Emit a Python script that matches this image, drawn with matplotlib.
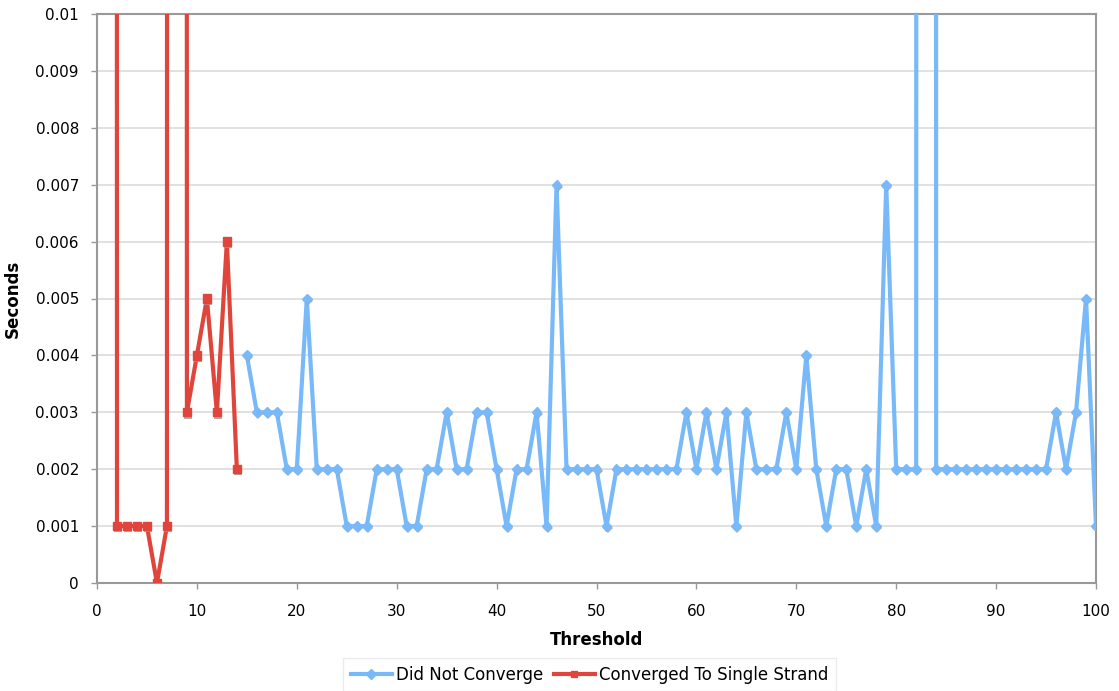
import numpy as np
import matplotlib
matplotlib.use('Agg')
import matplotlib.pyplot as plt
import matplotlib.patheffects as pe

# values above the axis top (off-scale spikes)
BIG = 1.0

thresh_red = [1, 2, 3, 4, 5, 6, 7, 8, 9, 10, 11, 12, 13, 14]
secs_red = [BIG, 0.001, 0.001, 0.001, 0.001, 0.0, 0.001, BIG,
            0.003, 0.004, 0.005, 0.003, 0.006, 0.002]

thresh_blue = list(range(15, 101))
secs_blue = [
    0.004, 0.003, 0.003, 0.003, 0.002, 0.002, 0.005, 0.002, 0.002, 0.002,  # 15-24
    0.001, 0.001, 0.001, 0.002, 0.002, 0.002, 0.001, 0.001, 0.002, 0.002,  # 25-34
    0.003, 0.002, 0.002, 0.003, 0.003, 0.002, 0.001, 0.002, 0.002, 0.003,  # 35-44
    0.001, 0.007, 0.002, 0.002, 0.002, 0.002, 0.001, 0.002, 0.002, 0.002,  # 45-54
    0.002, 0.002, 0.002, 0.002, 0.003, 0.002, 0.003, 0.002, 0.003, 0.001,  # 55-64
    0.003, 0.002, 0.002, 0.002, 0.003, 0.002, 0.004, 0.002, 0.001, 0.002,  # 65-74
    0.002, 0.001, 0.002, 0.001, 0.007, 0.002, 0.002, 0.002, BIG, 0.002,    # 75-84
    0.002, 0.002, 0.002, 0.002, 0.002, 0.002, 0.002, 0.002, 0.002, 0.002,  # 85-94
    0.002, 0.003, 0.002, 0.003, 0.005, 0.001,                              # 95-100
]

blue = '#78b9f9'
red = '#e0453c'

fig = plt.figure(figsize=(11.19, 6.91), dpi=100)
ax = fig.add_axes([97 / 1119, 1 - 583 / 691, (1096 - 97) / 1119, (583 - 14) / 691])

shadow = [pe.SimplePatchShadow(offset=(0.8, -1.5), shadow_rgbFace='#999999', alpha=0.8), pe.Normal()]

ax.plot(thresh_blue, secs_blue, color=blue, lw=3, solid_joinstyle='round', zorder=3)
ax.plot(thresh_blue, secs_blue, ls='none', marker='D', ms=5, color=blue, mec=blue,
        path_effects=shadow, zorder=4)
ax.plot(thresh_red, secs_red, color=red, lw=3, solid_joinstyle='round', zorder=5)
ax.plot(thresh_red, secs_red, ls='none', marker='s', ms=6, color=red, mec=red,
        path_effects=shadow, zorder=6)

ax.set_xlim(0, 100)
ax.set_ylim(0, 0.01)
ax.set_xticks(np.arange(0, 101, 10))
ax.set_yticks(np.arange(0, 0.0101, 0.001))
ax.set_yticklabels(['0', '0.001', '0.002', '0.003', '0.004', '0.005',
                    '0.006', '0.007', '0.008', '0.009', '0.01'])
ax.yaxis.grid(True, color='#dcdcdc', lw=1.2)
ax.set_axisbelow(True)
for s in ax.spines.values():
    s.set_color('#999999')
    s.set_linewidth(1.5)
ax.tick_params(colors='#999999', labelcolor='black', labelsize=11, length=4, width=1)
ax.tick_params(axis='x', pad=11)
ax.tick_params(axis='y', pad=9)

ax.set_xlabel('Threshold', fontsize=12, fontweight='bold', labelpad=9)
ax.set_ylabel('Seconds', fontsize=12, fontweight='bold', labelpad=10)

h1 = plt.Line2D([], [], color=blue, lw=3, marker='D', ms=5)
h2 = plt.Line2D([], [], color=red, lw=3, marker='s', ms=5)
leg = fig.legend([h1, h2], ['Did Not Converge', 'Converged To Single Strand'],
                 loc='lower center', bbox_to_anchor=(0.527, 0.0), ncol=2, fontsize=12,
                 frameon=True, fancybox=False, handlelength=2.5, handletextpad=0.25,
                 columnspacing=0.6, borderpad=0.45, borderaxespad=0.0)
leg.get_frame().set_edgecolor('#e6e6e6')

fig.savefig('out.png', dpi=100)
